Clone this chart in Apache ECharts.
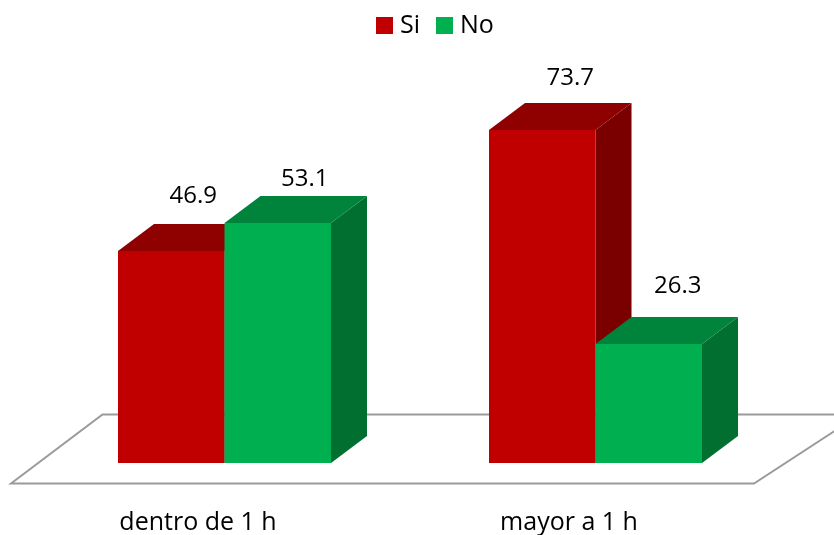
<!DOCTYPE html>
<html>
<head>
<meta charset="utf-8">
<style>html,body{margin:0;padding:0;background:#fff}#chart{width:834px;height:535px}</style>
<script src="https://cdn.jsdelivr.net/npm/echarts@6/dist/echarts.min.js"></script>
</head>
<body>
<div id="chart"></div>
<script>
// Share of cases by elapsed time, split by yes/no answer
const categories = ['dentro de 1 h', 'mayor a 1 h'];
const siValues = [46.9, 73.7];
const noValues = [53.1, 26.3];
const seriesNames = ['Si', 'No'];

// Face colours of each block: front, top, side
const palette = [
  { front: '#C00000', top: '#8F0000', side: '#7A0000' },
  { front: '#00B050', top: '#00843C', side: '#006F30' }
];

// Extrusion of the pseudo-3D blocks, in pixels
const DEPTH_X = 36;
const DEPTH_Y = 27;
const BAR_RATIO = 106.5 / 371;
const FONT = '"Open Sans", sans-serif';
const FONT_SIZE = 24;
const WIDE_FONT_SIZE = 25;

// Per-bar nudge of the value labels, relative to the centre of the block's top edge
const labelNudge = [
  [[22, -55], [28, -52]],
  [[27, -44], [29, -58]]
];

function block(seriesIdx) {
  return function (params, api) {
    const catIdx = api.value(0);
    const value = api.value(1);
    const w = api.size([1, 0])[0] * BAR_RATIO;
    const base = api.coord([catIdx, 0]);
    const top = api.coord([catIdx, value]);
    const x0 = base[0] + (seriesIdx === 0 ? -w : 0);
    const x1 = x0 + w;
    const y0 = base[1];
    const y1 = top[1];
    const c = palette[seriesIdx];
    const nudge = labelNudge[seriesIdx][catIdx];
    return {
      type: 'group',
      children: [
        { type: 'polygon', shape: { points: [[x1, y0], [x1 + DEPTH_X, y0 - DEPTH_Y], [x1 + DEPTH_X, y1 - DEPTH_Y], [x1, y1]] }, style: { fill: c.side } },
        { type: 'polygon', shape: { points: [[x0, y1], [x0 + DEPTH_X, y1 - DEPTH_Y], [x1 + DEPTH_X, y1 - DEPTH_Y], [x1, y1]] }, style: { fill: c.top } },
        { type: 'rect', shape: { x: x0, y: y1, width: w, height: y0 - y1 }, style: { fill: c.front } },
        {
          type: 'text',
          style: {
            text: value.toFixed(1),
            x: (x0 + x1) / 2 + nudge[0],
            y: y1 + nudge[1],
            align: 'center',
            verticalAlign: 'middle',
            font: FONT_SIZE + 'px ' + FONT,
            fill: '#000'
          }
        }
      ]
    };
  };
}

function toRows(values) {
  return values.map((v, i) => [i, v]);
}

const chart = echarts.init(document.getElementById('chart'), null, { renderer: 'canvas' });
chart.setOption({
  animation: false,
  backgroundColor: '#fff',
  legend: {
    left: 371,
    top: 8,
    icon: 'rect',
    itemWidth: 17,
    itemHeight: 17,
    itemGap: 16,
    padding: 5,
    textStyle: { fontFamily: FONT, fontSize: WIDE_FONT_SIZE, color: '#000', padding: [0, 0, 0, 2] },
    data: seriesNames
  },
  grid: { left: 39, width: 742, top: 11, height: 452, containLabel: false },
  xAxis: {
    type: 'category',
    data: categories,
    axisLine: { show: false },
    axisTick: { show: false },
    axisLabel: {
      fontFamily: FONT,
      fontSize: WIDE_FONT_SIZE,
      color: '#000',
      margin: 47,
      padding: [0, 53, 0, 0],
      interval: 0
    }
  },
  yAxis: { type: 'value', min: 0, max: 100, show: false },
  // Floor plane under the blocks
  graphic: [{
    type: 'polygon',
    z: 0,
    silent: true,
    shape: { points: [[11, 483.5], [102.5, 414.5], [860, 414.5], [754, 483.5]] },
    style: { fill: '#fff', stroke: '#9A9A9A', lineWidth: 2 }
  }],
  series: [
    { name: seriesNames[0], type: 'custom', z: 3, itemStyle: { color: palette[0].front }, data: toRows(siValues), encode: { x: 0, y: 1 }, renderItem: block(0) },
    { name: seriesNames[1], type: 'custom', z: 4, itemStyle: { color: palette[1].front }, data: toRows(noValues), encode: { x: 0, y: 1 }, renderItem: block(1) }
  ]
});
</script>
</body>
</html>
